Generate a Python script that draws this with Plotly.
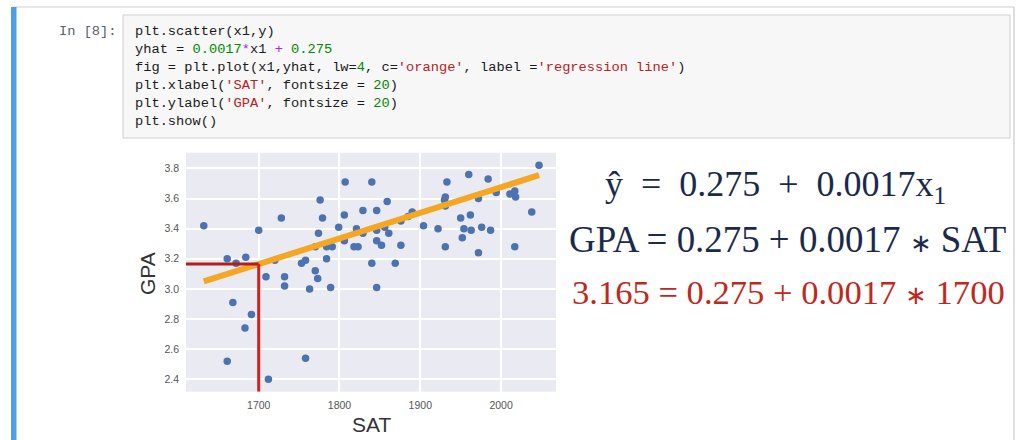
import plotly.graph_objects as go

# ---- data ----
sat = [1632, 1661, 1672, 1684, 1700, 1720, 1728, 1709, 1732, 1732,
       1668, 1691, 1683, 1661, 1712, 1758, 1753, 1758, 1770, 1773,
       1763, 1789, 1784, 1776, 1779, 1774, 1784, 1791, 1770, 1799,
       1806, 1806, 1807, 1818, 1823, 1821, 1829, 1829, 1840, 1840,
       1846, 1846, 1846, 1852, 1846, 1856, 1859, 1861, 1869, 1876,
       1876, 1885, 1890, 1904, 1922, 1931, 1931, 1931, 1933, 1930,
       1950, 1952, 1954, 1960, 1962, 1963, 1972, 1972, 1976, 1984,
       1987, 1994, 2011, 2017, 2018, 2017, 2038, 2047]
gpa = [3.42, 3.20, 3.17, 3.21, 3.39, 3.19, 3.47, 3.08, 3.08, 3.02,
       2.91, 2.83, 2.74, 2.52, 2.40, 2.54, 3.17, 3.19, 3.12, 3.07,
       3.00, 3.01, 3.20, 3.59, 3.47, 3.37, 3.28, 3.28, 3.28, 3.41,
       3.32, 3.49, 3.71, 3.28, 3.28, 3.40, 3.52, 3.37, 3.71, 3.17,
       3.52, 3.39, 3.32, 3.29, 3.01, 3.41, 3.58, 3.37, 3.17, 3.29,
       3.45, 3.48, 3.51, 3.42, 3.40, 3.28, 3.55, 3.61, 3.71, 3.59,
       3.47, 3.34, 3.40, 3.76, 3.49, 3.39, 3.24, 3.60, 3.41, 3.73,
       3.39, 3.64, 3.63, 3.65, 3.61, 3.28, 3.51, 3.82]

b0 = 0.275
b1 = 0.0017
sat_example = 1700
gpa_example = 3.165

x_ticks = [1700, 1800, 1900, 2000]
y_ticks = [2.4, 2.6, 2.8, 3.0, 3.2, 3.4, 3.6, 3.8]
x_range = [1610, 2068]
y_range = [2.318, 3.904]

code_lines = [
    "plt.scatter(x1,y)",
    "yhat = <span style='color:#008800'>0.0017</span><span style='color:#AA22FF'>*</span>x1 "
    "<span style='color:#AA22FF'>+</span> <span style='color:#008800'>0.275</span>",
    "fig = plt.plot(x1,yhat, lw=<span style='color:#008800'>4</span>, c=<span style='color:#BA2121'>'orange'</span>, "
    "label =<span style='color:#BA2121'>'regression line'</span>)",
    "plt.xlabel(<span style='color:#BA2121'>'SAT'</span>, fontsize = <span style='color:#008800'>20</span>)",
    "plt.ylabel(<span style='color:#BA2121'>'GPA'</span>, fontsize = <span style='color:#008800'>20</span>)",
    "plt.show()",
]
prompt = "In [8]:"
EN = "\u2002"
STAR = "<span style='font-size:26px'>\u2217</span>"
equations = [
    f"ŷ{EN}={EN}0.275{EN}+{EN}0.0017x<sub>1</sub>",
    f"GPA = 0.275 + 0.0017 {STAR} SAT",
    f"3.165 = 0.275 + 0.0017 {STAR} 1700",
]

W, H = 1024, 440
def px(x):
    return x / W
def py(y):
    return 1 - y / H

sat_sorted = sorted(sat)
yhat = [b1 * s + b0 for s in sat_sorted]

fig = go.Figure()
fig.add_trace(go.Scatter(x=sat, y=gpa, mode="markers",
                         marker=dict(color="#4C72B0", size=7.5, line=dict(width=0)),
                         showlegend=False, hoverinfo="skip"))
fig.add_trace(go.Scatter(x=sat_sorted, y=yhat, mode="lines",
                         line=dict(color="#F5A623", width=6),
                         showlegend=False, hoverinfo="skip"))

shapes = []
# notebook chrome
shapes.append(dict(type="line", xref="paper", yref="paper", x0=px(12), x1=px(1014), y0=py(7), y1=py(7),
                   line=dict(color="#d0d0d0", width=1), layer="below"))
shapes.append(dict(type="line", xref="paper", yref="paper", x0=px(1014), x1=px(1014), y0=py(7), y1=py(440),
                   line=dict(color="#c0c0c0", width=1), layer="below"))
shapes.append(dict(type="rect", xref="paper", yref="paper", x0=px(11), x1=px(16.5), y0=py(7), y1=py(440),
                   fillcolor="#4A9FE6", line=dict(width=0), layer="below"))
shapes.append(dict(type="rect", xref="paper", yref="paper", x0=px(123), x1=px(1010), y0=py(15), y1=py(138),
                   fillcolor="#f7f7f7", line=dict(color="#cfcfcf", width=1), layer="below"))
# example guide lines
shapes.append(dict(type="line", xref="x", yref="y", x0=x_range[0], x1=sat_example,
                   y0=gpa_example, y1=gpa_example, line=dict(color="#B21E1E", width=3)))
shapes.append(dict(type="line", xref="x", yref="y", x0=sat_example, x1=sat_example,
                   y0=gpa_example, y1=y_range[0], line=dict(color="#D02020", width=3)))

annotations = []
line_y0 = 31.5
for i, txt in enumerate(code_lines):
    annotations.append(dict(xref="paper", yref="paper", x=px(133), y=py(line_y0 + 18 * i),
                            xanchor="left", yanchor="middle", text=txt, showarrow=False,
                            font=dict(family="Liberation Mono", size=13.7, color="#1a1a1a")))
annotations.append(dict(xref="paper", yref="paper", x=px(119), y=py(line_y0),
                        xanchor="right", yanchor="middle", text=prompt, showarrow=False,
                        font=dict(family="Liberation Mono", size=13.7, color="#56606e")))
# axis labels
annotations.append(dict(xref="paper", yref="paper", x=px(371), y=py(424),
                        xanchor="center", yanchor="middle", text="SAT", showarrow=False,
                        font=dict(family="Liberation Sans", size=21, color="#333333")))
annotations.append(dict(xref="paper", yref="paper", x=px(147), y=py(274),
                        xanchor="center", yanchor="middle", text="GPA", showarrow=False, textangle=-90,
                        font=dict(family="Liberation Sans", size=21, color="#333333")))
# equations
eq_specs = [(603, 186, 36, "#1b2a4a"), (567, 240, 36.9, "#1b2a4a"), (570, 291.5, 34.6, "#C0281E")]
for txt, (x0, yc, fs, col) in zip(equations, eq_specs):
    annotations.append(dict(xref="paper", yref="paper", x=px(x0), y=py(yc),
                            xanchor="left", yanchor="middle", text=txt, showarrow=False,
                            font=dict(family="Liberation Serif", size=fs, color=col)))

fig.update_layout(
    width=W, height=H, margin=dict(l=0, r=0, t=0, b=0),
    paper_bgcolor="white", plot_bgcolor="#EAEAF2",
    shapes=shapes, annotations=annotations,
    xaxis=dict(domain=[px(186), px(556)], range=x_range, tickvals=x_ticks,
               showgrid=True, gridcolor="white", gridwidth=1.5, zeroline=False,
               showline=False, ticks="", ticklabelstandoff=6,
               tickfont=dict(family="Liberation Sans", size=10.5, color="#555555")),
    yaxis=dict(domain=[1 - 391.7 / H, 1 - 152.7 / H], range=y_range, tickvals=y_ticks,
               tickformat=".1f", showgrid=True, gridcolor="white", gridwidth=1.5, zeroline=False,
               showline=False, ticks="", ticklabelstandoff=6,
               tickfont=dict(family="Liberation Sans", size=10.5, color="#555555")),
)

fig.write_html("out.html")
